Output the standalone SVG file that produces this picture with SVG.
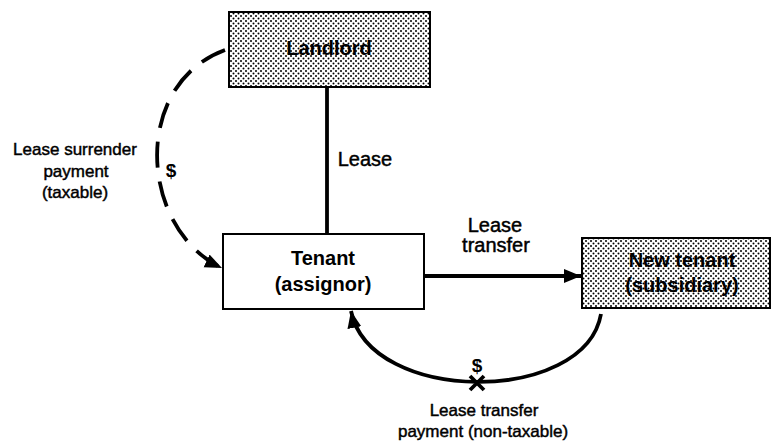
<svg xmlns="http://www.w3.org/2000/svg" width="771" height="441" viewBox="0 0 771 441">
<style>
.box{stroke:#000;stroke-width:2}
.dot{fill:url(#stip)}
.title{font-family:"Liberation Sans",Arial,sans-serif;font-weight:bold;font-size:20px;text-anchor:middle;fill:#000}
.lbl{font-family:"Liberation Sans",Arial,sans-serif;font-size:17px;text-anchor:middle;fill:#000;stroke:#000;stroke-width:0.45}
.big{font-size:20px}
.conn{fill:none;stroke:#000;stroke-width:3.8}
</style>
<defs>
<pattern id="stip" width="5" height="5" patternUnits="userSpaceOnUse">
<rect width="5" height="5" fill="#fff"/>
<circle cx="1" cy="1" r="1" fill="#000"/>
<circle cx="3.5" cy="3.5" r="1" fill="#000"/>
</pattern>
<marker id="arr" markerUnits="userSpaceOnUse" markerWidth="20" markerHeight="16" refX="17" refY="8" orient="auto">
<path d="M0,1 L17,8 L0,15 Z" fill="#000"/>
</marker>
</defs>
<g id="connectors">
<line class="conn" x1="327" y1="87" x2="327" y2="234"/>
<line class="conn" x1="424" y1="276" x2="581" y2="276" marker-end="url(#arr)"/>
<path class="conn" d="M225,50 C130,85 140,230 222,268" stroke-dasharray="26,14" marker-end="url(#arr)"/>
<path class="conn" d="M601,314 C585,405 370,405 351,311" marker-end="url(#arr)"/>
<path d="M470,376 L484,390 M484,376 L470,390" stroke="#000" stroke-width="3.8"/>
<text class="lbl big" x="365" y="166">Lease</text>
<text class="lbl big" x="495" y="232">Lease</text>
<text class="lbl big" x="496" y="252">transfer</text>
<text class="lbl" x="75" y="155">Lease surrender</text>
<text class="lbl" x="76" y="177">payment</text>
<text class="lbl" x="75" y="198">(taxable)</text>
<text class="title" x="171" y="177" style="font-size:19px">$</text>
<text class="title" x="477" y="372" style="font-size:19px">$</text>
<text class="lbl" x="484" y="416">Lease transfer</text>
<text class="lbl" x="483" y="437">payment (non-taxable)</text>
</g>
<g id="landlord">
<rect class="box dot" x="229" y="12" width="201" height="75"/>
<text class="title" x="329" y="55">Landlord</text>
</g>
<g id="tenant">
<rect class="box" x="223" y="234" width="201" height="75" fill="#fff"/>
<text class="title" x="323" y="265">Tenant</text>
<text class="title" x="323" y="291">(assignor)</text>
</g>
<g id="new-tenant">
<rect class="box dot" x="582" y="238" width="188" height="70"/>
<text class="title" x="682" y="267">New tenant</text>
<text class="title" x="682" y="292">(subsidiary)</text>
</g>
</svg>
